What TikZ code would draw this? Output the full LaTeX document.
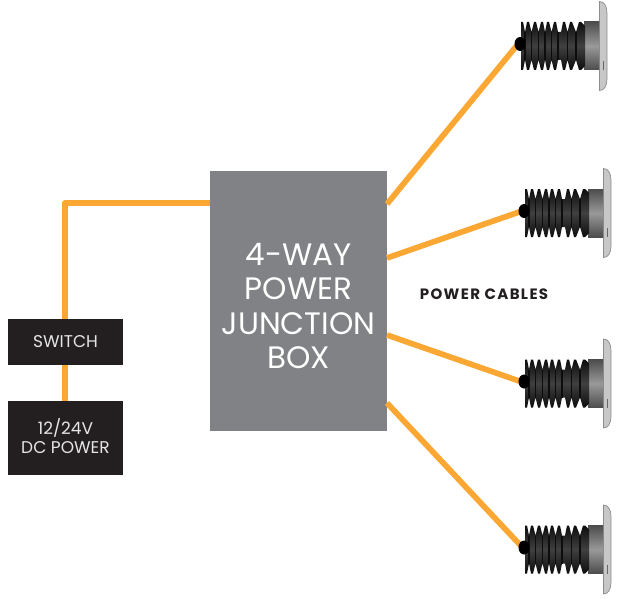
\documentclass[tikz,border=0pt]{standalone}
\usepackage{fontspec}
\setmainfont{Poppins}
\definecolor{wire}{HTML}{FBA733}
\definecolor{boxgray}{HTML}{808285}
\definecolor{boxblack}{HTML}{231F20}
\tikzset{
  wire/.style={draw=wire,line width=5.7pt},
  blackbox/.style={fill=boxblack,text=white!90!black,inner sep=0pt,align=center,font=\fontsize{17}{19}\selectfont},
  bigbox/.style={fill=boxgray,text=white,inner sep=0pt,align=center,font=\fontsize{31}{34.5}\selectfont},
  lamp/.pic={
    % plate
    \path[draw=black!45,line width=.7pt,fill=black!22]
      (-0.5,-44.5) .. controls (4,-44.5) and (7,-40) .. (7,-33) -- (7,33) .. controls (7,40) and (4,44.5) .. (-0.5,44.5) -- cycle;
    \draw[black!60,line width=.7pt] (3,15) -- (3,24);
    % collar
    \path[top color=black!70,bottom color=black!70,middle color=black!40]
      (-16,-24) -- (-1,-24) -- (-1,24) -- (-16,24) -- cycle;
    % bellows
    \path[top color=black!95,bottom color=black!95,middle color=black!75]
      (-79,-24) -- (-77,-24) -- (-75,-14) -- (-73,-24) -- (-71,-24) -- (-68.5,-14) -- (-66,-24) -- (-64,-24)
      -- (-61.5,-14) -- (-59,-24) -- (-57,-24) -- (-55,-14) -- (-53,-24) -- (-51,-24) -- (-48.5,-14)
      -- (-46,-24) -- (-44,-24) -- (-42,-14) -- (-39,-14) -- (-37,-24) -- (-35,-24) -- (-32.5,-14)
      -- (-30,-24) -- (-28,-24) -- (-24,-14) -- (-21,-24) -- (-19,-24) -- (-15,-20)
      -- (-15,20) -- (-19,24) -- (-21,24) -- (-24,14) -- (-28,24) -- (-30,24) -- (-32.5,14)
      -- (-35,24) -- (-37,24) -- (-39,14) -- (-42,14) -- (-44,24) -- (-46,24) -- (-48.5,14)
      -- (-51,24) -- (-53,24) -- (-55,14) -- (-57,24) -- (-59,24) -- (-61.5,14) -- (-64,24)
      -- (-66,24) -- (-68.5,14) -- (-71,24) -- (-73,24) -- (-75,14) -- (-77,24) -- (-79,24) -- cycle;
    % rib shadows
    \foreach \r in {-75,-68.5,-61.5,-55,-48.5,-42,-32.5,-24}
      \draw[black!95,line width=1.2pt] (\r,-14) -- (\r,14);
    % nub
    \fill[black] (-80,-2) ellipse[x radius=5.5pt,y radius=7pt];
  }
}
\begin{document}
\begin{tikzpicture}[x=1pt,y=-1pt]
\useasboundingbox (0,0) rectangle (618,599);
\coordinate (l1) at (518,44);
\coordinate (l2) at (522,211);
\coordinate (l3) at (522,382);
\coordinate (l4) at (522,547);
\coordinate (bend) at (65,203);
% boxes
\node[bigbox,minimum width=177pt,minimum height=260pt] (jbox) at (298.5,301) {};
\node[bigbox,anchor=center] (jtext) at (298.5,306) {4-WAY\\POWER\\JUNCTION\\BOX};
\node[blackbox,minimum width=115pt,minimum height=46pt] (sw) at (65.5,342) {SWITCH};
\node[blackbox,minimum width=115pt,minimum height=74pt] (dc) at (65.5,438) {};
\node[blackbox] (dctext) at (65.5,436.5) {12/24V\\DC POWER};
\coordinate (j0) at (jbox.west |- bend);
\coordinate (j1) at (387,204);
\coordinate (j2) at (387,258);
\coordinate (j3) at (387,335);
\coordinate (j4) at (387,403);
% wires
\draw[wire,line join=round] (j0) -- (bend) -- (sw.north -| bend);
\draw[wire] (sw.south -| bend) -- (dc.north -| bend);
\draw[wire] (j1) -- (l1);
\draw[wire] (j2) -- (l2);
\draw[wire] (j3) -- (l3);
\draw[wire] (j4) -- (l4);
% lamps
\pic at (600,46) {lamp};
\pic at (604,213) {lamp};
\pic at (604,383.5) {lamp};
\pic at (604,549.5) {lamp};
\node[font=\fontsize{15}{18}\selectfont\bfseries\addfontfeatures{LetterSpace=9},text=boxblack,inner sep=0pt] (lab) at (484,294) {POWER CABLES};
\end{tikzpicture}
\end{document}
